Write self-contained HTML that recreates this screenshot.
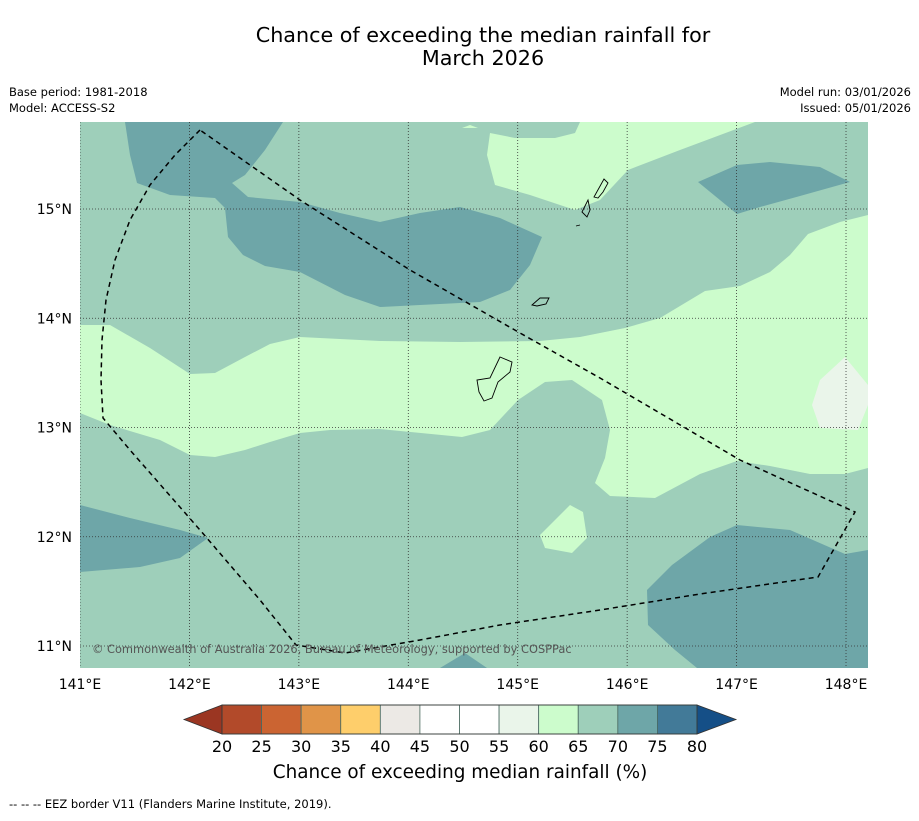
<!DOCTYPE html>
<html><head><meta charset="utf-8"><style>
body{margin:0;background:#fff;font-family:"Liberation Sans","DejaVu Sans",sans-serif;}
svg text{font-family:"DejaVu Sans","Liberation Sans",sans-serif;}
</style></head><body>
<svg id="chart" width="919" height="816" viewBox="0 0 919 816">
<rect width="919" height="816" fill="#fff"/>
<text x="483" y="42" font-size="20.7" text-anchor="middle">Chance of exceeding the median rainfall for</text>
<text x="483" y="65" font-size="20.7" text-anchor="middle">March 2026</text>
<text x="9" y="96" font-size="11.5">Base period: 1981-2018</text>
<text x="9" y="112" font-size="11.5">Model: ACCESS-S2</text>
<text x="911" y="96" font-size="11.5" text-anchor="end">Model run: 03/01/2026</text>
<text x="911" y="112" font-size="11.5" text-anchor="end">Issued: 05/01/2026</text>
<defs><clipPath id="mc"><rect x="80" y="122" width="788" height="546"/></clipPath></defs>
<g clip-path="url(#mc)">
<rect x="80" y="122" width="788" height="546" fill="#9ecfba"/>
<polygon fill="#ccfccc" points="80,325 110,325 150,348 190,374 215,373 245,357 270,344 300,337 380,341 460,342 540,341 580,337 625,328 660,318 705,291 740,286 770,272 790,255 808,234 840,222 868,215 868,468 845,474 810,474 770,466 737,461 700,474 655,498 610,496 595,483 605,458 610,430 602,400 572,380 545,382 518,400 490,430 462,437 380,429 330,430 300,433 270,442 245,450 215,457 190,455 160,440 110,425 80,413"/>
<polygon fill="#ccfccc" points="487,155 495,185 530,195 575,210 600,200 628,170 680,150 755,122 580,122 575,133 555,138 515,138 490,133"/>
<polygon fill="#ccfccc" points="540,535 570,505 583,512 587,538 572,553 545,548"/>
<polygon fill="#ccfccc" points="462,128 470,125 478,128" />
<polygon fill="#ccfccc" points="651,122 660,122 655,128" />
<polygon fill="#eaf5ea" points="820,380 845,357 868,385 868,405 858,430 820,428 812,405"/>
<polygon fill="#6ea6a8" points="125,122 283,122 265,150 245,175 232,183 248,197 300,202 340,213 380,222 420,213 460,207 500,218 542,237 530,265 510,290 480,302 420,305 380,307 345,295 300,272 265,266 243,255 228,237 225,208 215,198 170,195 137,183 130,155"/>
<polygon fill="#6ea6a8" points="698,182 737,165 770,162 820,167 850,182 800,196 760,207 737,214"/>
<polygon fill="#6ea6a8" points="80,505 130,518 180,530 208,538 180,558 140,567 80,572"/>
<polygon fill="#6ea6a8" points="647,590 672,565 710,537 737,525 790,530 845,554 868,550 868,668 697,668 675,650 648,625"/>
<polygon fill="#6ea6a8" points="440,668 465,653 487,668"/>
<g id="grid" stroke="#333" stroke-width="0.8" stroke-dasharray="1,2"></g>
<g fill="none" stroke="#000" stroke-width="0.9">
<path d="M500,357 L512,362 L510,372 L498,382 L492,398 L484,401 L479,392 L477,380 L490,378 Z"/>
<path d="M532,305 L540,298 L549,298 L546,304 L537,306 Z"/>
<path d="M594,197 L604,179 L608,183 L603,192 L598,198 Z"/>
<path d="M582,212 L588,200 L590,210 L587,217 Z"/>
<path d="M576,226 L580,225"/>
</g>
<polyline fill="none" stroke="#000" stroke-width="1.5" stroke-dasharray="5,4" points="200,130 175,155 150,185 130,220 115,260 106,300 102,340 101,380 103,418 130,450 200,530 260,600 296,645 345,653 420,640 500,625 600,610 700,594 818,577 855,512 740,460 600,378 520,333 410,270 300,200 200,130"/>
<text x="92" y="653" font-size="11.4" fill="#555">© Commonwealth of Australia 2026, Bureau of Meteorology, supported by COSPPac</text>
</g>
<g id="axes" font-size="14"></g>
<g id="cbar"></g>
<text x="460" y="778" font-size="18.4" text-anchor="middle">Chance of exceeding median rainfall (%)</text>
<text x="9" y="808" font-size="11.5">-- -- -- EEZ border V11 (Flanders Marine Institute, 2019).</text>
</svg>
<script>
const lonTicks=[141,142,143,144,145,146,147,148];
const latTicks=[11,12,13,14,15];
const levels=[20,25,30,35,40,45,50,55,60,65,70,75,80];
const levelColors=["#b24a2a","#cb6432","#e09448","#fece6b","#ece9e5","#ffffff","#ffffff","#eaf5ea","#ccfccc","#9ecfba","#6ea6a8","#427a98"];
const lowColor="#9b3622", highColor="#154f87";
const NS="http://www.w3.org/2000/svg";
const X=lon=>80+(lon-141)*109.43;
const Y=lat=>646-(lat-11)*109.25;
function mk(tag,attrs,parent){const e=document.createElementNS(NS,tag);for(const k in attrs)e.setAttribute(k,attrs[k]);parent.appendChild(e);return e;}
const grid=document.getElementById('grid'),axes=document.getElementById('axes');
lonTicks.forEach(l=>{
 const ln=mk('line',{x1:X(l),x2:X(l),y1:122,y2:668},grid);
 
 
 const t=mk('text',{x:X(l),y:689,'text-anchor':'middle'},axes);t.textContent=l+'°E';
 
 
});
latTicks.forEach(l=>{
 const ln=mk('line',{x1:80,x2:868,y1:Y(l),y2:Y(l)},grid);
 
 
 const t=mk('text',{x:72,y:Y(l)+5,'text-anchor':'end'},axes);t.textContent=l+'°N';
 
 
});
const cb=document.getElementById('cbar');
const x0=222,x1=697,y0=705,y1=734,w=(x1-x0)/levelColors.length;
const lt=mk('polygon',{points:`${x0},${y0} 184,${(y0+y1)/2} ${x0},${y1}`,fill:lowColor,stroke:'#333','stroke-width':0.8},cb);


const ht=mk('polygon',{points:`${x1},${y0} 736,${(y0+y1)/2} ${x1},${y1}`,fill:highColor,stroke:'#333','stroke-width':0.8},cb);


levelColors.forEach((c,i)=>{
 const r=mk('rect',{x:x0+i*w,y:y0,width:w,height:y1-y0,fill:c,stroke:'#4a6a60','stroke-width':0.8},cb);
 
 
});
mk('rect',{x:x0,y:y0,width:x1-x0,height:y1-y0,fill:'none',stroke:'#333','stroke-width':0.8},cb);
levels.forEach((v,i)=>{
 const t=mk('text',{x:x0+i*w,y:752,'text-anchor':'middle','font-size':16},cb);t.textContent=v;
 
 
});
</script>
</body></html>
